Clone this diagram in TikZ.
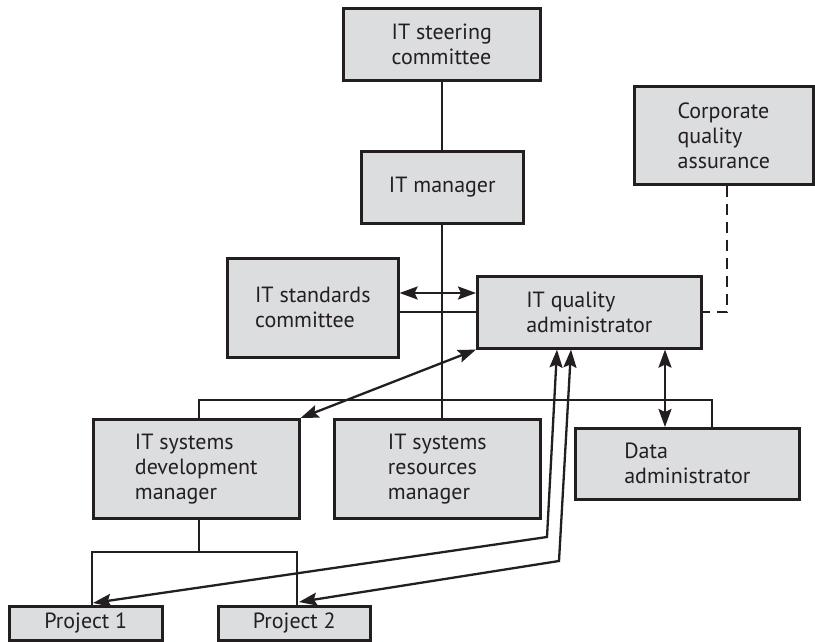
\documentclass[tikz,border=0pt]{standalone}
\usepackage{fontspec}
\setmainfont{PT Sans}
\usetikzlibrary{arrows.meta,calc}
\definecolor{boxgray}{RGB}{220,221,223}
\definecolor{ink}{RGB}{35,31,32}
\begin{document}
\begin{tikzpicture}[x=1pt,y=-1pt,
  box/.style={draw=ink,fill=boxgray,line width=2.6pt,anchor=north west,
    align=left,inner sep=0pt,font=\fontsize{22}{25}\selectfont,text=ink},
  conn/.style={draw=ink,line width=2.3pt},
  >={Stealth[length=18pt,width=13pt,inset=3pt]}]
\useasboundingbox (0,0) rectangle (815,642);
\node[box,minimum width=197pt,minimum height=72pt] (steer) at (342,7) {IT steering\\committee};
\node[box,minimum width=162pt,minimum height=72pt] (mgr) at (360,150) {IT manager};
\node[box,minimum width=179pt,minimum height=98pt] (cqa) at (633,85) {Corporate\\quality\\assurance};
\node[box,minimum width=171pt,minimum height=99pt] (std) at (226,257) {IT standards\\committee};
\node[box,minimum width=224pt,minimum height=72pt] (qa) at (476,275) {IT quality\\administrator};
\node[box,minimum width=206pt,minimum height=99pt] (dev) at (92,418) {IT systems\\development\\manager};
\node[box,minimum width=206pt,minimum height=99pt] (res) at (333,418) {IT systems\\resources\\manager};
\node[box,minimum width=224pt,minimum height=71pt] (data) at (574,427) {Data\\administrator};
\node[box,minimum width=153pt,minimum height=34pt] (p1) at (8,605) {Project 1};
\node[box,minimum width=152pt,minimum height=34pt] (p2) at (217,605) {Project 2};
% coordinates
\coordinate (busL) at (199,400);
\coordinate (busR) at (712,400);
\coordinate (y293) at (0,293);
\coordinate (dashc) at (727,0);
\coordinate (junc) at (199,552);
\coordinate (jl) at (92,552);
\coordinate (jr) at (297,552);
\coordinate (k1) at (547,537);
\coordinate (k2) at (559,561);
\coordinate (t1) at (557,0);
\coordinate (t2) at (571,0);
\coordinate (t3) at (665,0);
\coordinate (e1) at (93,0);
\coordinate (e2) at (299,0);
% tree lines
\draw[conn] (steer.south -| mgr.south) -- (mgr.north);
\draw[conn] (mgr.south) -- (mgr.south |- res.north);
\draw[conn] (busL |- dev.north) -- (busL) -- (busR) -- (busR |- data.north);
\draw[conn] (std.east |- qa.west) -- (qa.west);
\draw[conn] (busL |- dev.south) -- (junc);
\draw[conn] (jl |- p1.north) -- (jl) -- (jr) -- (jr |- p2.north);
% arrows
\draw[conn,<->] (std.east |- y293) -- (qa.west |- y293);
\draw[conn,<->] (qa.south west) -- (dev.north east);
\draw[conn,<->] (t1 |- qa.south) -- (k1) -- ($(e1 |- p1.north)+(0,-2)$);
\draw[conn,<->] (t2 |- qa.south) -- (k2) -- ($(e2 |- p2.north)+(0,-3)$);
\draw[conn,<->] (t3 |- qa.south) -- (t3 |- data.north);
\draw[conn,dashed,dash pattern=on 11pt off 7pt] (dashc |- cqa.south) -- (dashc |- qa.east) -- (qa.east);
\end{tikzpicture}
\end{document}
